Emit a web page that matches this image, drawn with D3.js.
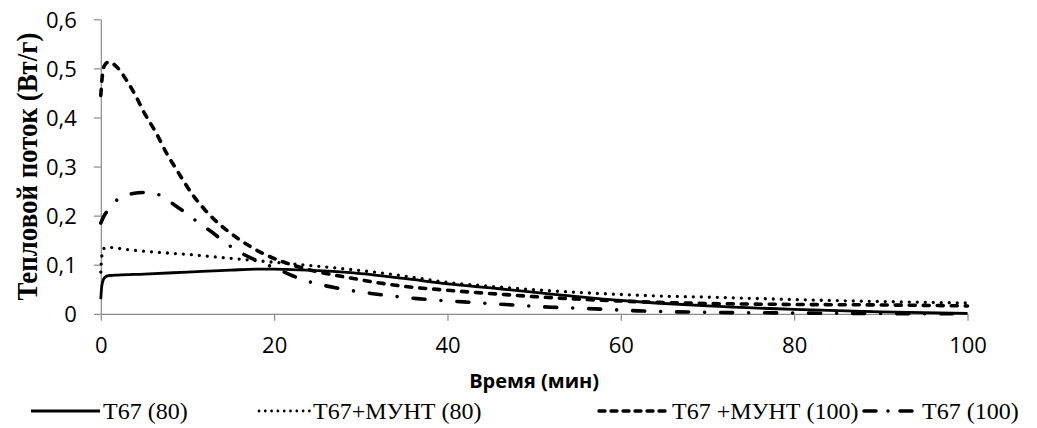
<!DOCTYPE html>
<html>
<head>
<meta charset="utf-8">
<script src="https://cdn.jsdelivr.net/npm/d3@7"></script>
<style>
  html, body { margin: 0; padding: 0; background: #fff; }
  svg { display: block; }
</style>
</head>
<body>
<div id="chart"></div>
<script>
// Time axis (minutes) and heat-flow values (W/g) for each sample
const xTicks = [0, 20, 40, 60, 80, 100];
const xTickLabels = ["0", "20", "40", "60", "80", "100"];
const yTicks = [0, 0.1, 0.2, 0.3, 0.4, 0.5, 0.6];
const yTickLabels = ["0", "0,1", "0,2", "0,3", "0,4", "0,5", "0,6"];

const seriesNames = ["Т67 (80)", "Т67+МУНТ (80)", "Т67 +МУНТ (100)", "Т67 (100)"];

const t67_80_x = [0, 0.1, 0.3, 0.6, 1, 2, 5, 10, 15, 18, 20, 22, 25, 30, 35, 40, 46, 52, 58, 64, 70, 80, 90, 100];
const t67_80_y = [0.030, 0.055, 0.070, 0.076, 0.078, 0.079, 0.081, 0.085, 0.089, 0.091, 0.091, 0.090, 0.088, 0.082, 0.072, 0.061, 0.051, 0.040, 0.030, 0.022, 0.016, 0.009, 0.004, 0.001];

const t67munt_80_x = [0, 0.1, 0.3, 0.6, 1, 3, 6, 10, 15, 20, 25, 30, 35, 40, 45, 50, 58, 65, 70, 80, 90, 100];
const t67munt_80_y = [0.085, 0.115, 0.132, 0.135, 0.135, 0.131, 0.126, 0.121, 0.113, 0.105, 0.097, 0.088, 0.077, 0.064, 0.056, 0.049, 0.041, 0.036, 0.034, 0.029, 0.025, 0.022];

const t67munt_100_x = [0, 0.15, 0.4, 0.9, 2, 3, 4, 5, 6.4, 7.5, 8.8, 10.7, 12, 13.4, 15.7, 18.7, 21, 24, 28.8, 34.5, 40, 46, 50, 55, 60, 65, 70, 80, 90, 100];
const t67munt_100_y = [0.445, 0.480, 0.505, 0.513, 0.500, 0.475, 0.445, 0.410, 0.368, 0.330, 0.292, 0.240, 0.212, 0.187, 0.155, 0.123, 0.106, 0.090, 0.073, 0.057, 0.048, 0.040, 0.035, 0.030, 0.026, 0.023, 0.021, 0.019, 0.018, 0.016];

const t67_100_x = [0, 0.3, 1, 1.6, 2.5, 3.7, 5, 6, 7, 8, 9.7, 11.4, 13, 14.5, 16.4, 18.7, 20, 22.2, 24.5, 26.8, 31.4, 36.5, 44, 52, 57, 62, 70, 77, 85, 100];
const t67_100_y = [0.185, 0.197, 0.215, 0.228, 0.238, 0.245, 0.247, 0.246, 0.240, 0.228, 0.207, 0.184, 0.164, 0.143, 0.122, 0.103, 0.094, 0.077, 0.063, 0.054, 0.041, 0.031, 0.022, 0.0135, 0.010, 0.006, 0.003, 0.002, 0.001, 0.000];

const seriesX = [t67_80_x, t67munt_80_x, t67munt_100_x, t67_100_x];
const seriesY = [t67_80_y, t67munt_80_y, t67munt_100_y, t67_100_y];

// Line styles per series
const lineStyles = [
  { width: 2.8, dash: null, cap: "butt" },
  { width: 3.3, dash: "0,8", cap: "round" },
  { width: 3.6, dash: "6,8", cap: "round" },
  { width: 3.6, dash: "12,16,0,16", cap: "round" }
];

// Legend layout: line start/end and text start
const legendLayout = [
  { x1: 31, x2: 100, tx: 103, dash: null, cap: "butt", width: 2.8 },
  { x1: 259, x2: 310, tx: 313, dash: "0,6.3", cap: "round", width: 2.8 },
  { x1: 599, x2: 668, tx: 672, dash: "6,6", cap: "round", width: 3.4 },
  { x1: 864, x2: 912, tx: 922, dash: "12,12,0,12", cap: "round", width: 3.6 }
];

const W = 1037, H = 428;
const svg = d3.select("#chart").append("svg")
  .attr("width", W).attr("height", H);
svg.append("rect").attr("width", W).attr("height", H).attr("fill", "#fff");

const x = d3.scaleLinear().domain([0, 100]).range([100.8, 967.5]);
const y = d3.scaleLinear().domain([0, 0.6]).range([313.8, 19.3]);

const axisColor = "#8a8a8a";
const tickFont = "'Open Sans', 'Liberation Sans', sans-serif";

// Y axis
const yAxis = d3.axisLeft(y).tickValues(yTicks).tickSize(7).tickSizeOuter(0)
  .tickFormat((d, i) => yTickLabels[i]);
const gy = svg.append("g").attr("transform", `translate(${x(0)},0)`).call(yAxis);
gy.select(".domain").attr("stroke", axisColor).attr("stroke-width", 1.2);
gy.selectAll(".tick line").attr("stroke", axisColor).attr("stroke-width", 1.2);
gy.selectAll(".tick text")
  .attr("x", -24).attr("dy", "0.36em")
  .attr("fill", "#000").style("font-family", tickFont).style("font-size", "22px");

// X axis
const xAxis = d3.axisBottom(x).tickValues(xTicks).tickSize(7).tickSizeOuter(0)
  .tickFormat((d, i) => xTickLabels[i]);
const gx = svg.append("g").attr("transform", `translate(0,${y(0)})`).call(xAxis);
gx.select(".domain").attr("stroke", axisColor).attr("stroke-width", 1.2);
gx.selectAll(".tick line").attr("stroke", axisColor).attr("stroke-width", 1.2);
gx.selectAll(".tick text")
  .attr("y", 24).attr("dy", "0.71em")
  .attr("fill", "#000").style("font-family", tickFont).style("font-size", "22px");

// Series lines
const line = d3.line().curve(d3.curveMonotoneX);
seriesX.forEach((xs, i) => {
  const pts = xs.map((v, k) => [x(v), y(seriesY[i][k])]);
  const st = lineStyles[i];
  svg.append("path")
    .attr("d", line(pts))
    .attr("fill", "none")
    .attr("stroke", "#000")
    .attr("stroke-width", st.width)
    .attr("stroke-linecap", st.cap)
    .attr("stroke-linejoin", "round")
    .attr("stroke-dasharray", st.dash);
});

// Axis titles
svg.append("text")
  .attr("transform", `translate(37,${(y(0) + y(0.6)) / 2}) rotate(-90)`)
  .attr("text-anchor", "middle")
  .attr("textLength", 268)
  .attr("lengthAdjust", "spacingAndGlyphs")
  .style("font-family", "'Liberation Serif', 'Times New Roman', serif")
  .style("font-weight", "bold").style("font-size", "29px")
  .text("Тепловой поток (Вт/г)");

svg.append("text")
  .attr("x", (x(0) + x(100)) / 2).attr("y", 388)
  .attr("text-anchor", "middle")
  .style("font-family", tickFont)
  .style("font-weight", "bold").style("font-size", "20px")
  .text("Время (мин)");

// Legend
const legY = 411;
const leg = svg.append("g");
legendLayout.forEach((L, i) => {
  leg.append("line")
    .attr("x1", L.x1).attr("x2", L.x2).attr("y1", legY).attr("y2", legY)
    .attr("stroke", "#000").attr("stroke-width", L.width)
    .attr("stroke-linecap", L.cap)
    .attr("stroke-dasharray", L.dash);
  leg.append("text")
    .attr("x", L.tx).attr("y", legY + 8)
    .style("font-family", "'Liberation Serif', 'Times New Roman', serif")
    .style("font-size", "24px")
    .text(seriesNames[i]);
});
</script>
</body>
</html>
